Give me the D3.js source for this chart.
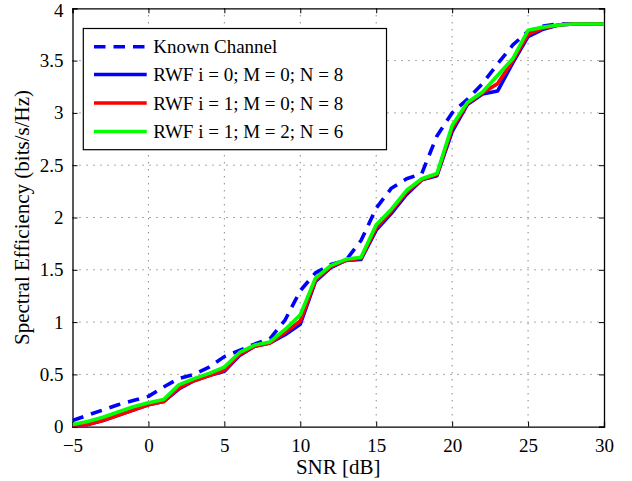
<!DOCTYPE html>
<html><head><meta charset="utf-8">
<script src="https://cdn.jsdelivr.net/npm/d3@7"></script>
<style>body{margin:0;background:#fff}svg{display:block}text{font-family:"Liberation Serif","Times New Roman",serif;fill:#000}</style>
</head><body><div id="chart"></div>
<script>
const snr = d3.range(-5, 31, 1);
const knownChannel = [0.06,0.11,0.16,0.21,0.25,0.29,0.38,0.46,0.50,0.57,0.67,0.73,0.79,0.84,1.02,1.30,1.47,1.55,1.59,1.78,2.09,2.28,2.37,2.42,2.78,3.00,3.13,3.28,3.47,3.65,3.78,3.83,3.85,3.85,3.85,3.85];
const rwf_i0_M0_N8 = [0.00,0.02,0.06,0.11,0.16,0.21,0.24,0.36,0.44,0.49,0.53,0.68,0.77,0.80,0.88,0.98,1.39,1.52,1.59,1.60,1.88,2.04,2.22,2.36,2.40,2.82,3.08,3.18,3.21,3.48,3.73,3.80,3.84,3.85,3.85,3.85];
const rwf_i1_M0_N8 = [0.00,0.02,0.06,0.11,0.16,0.21,0.24,0.37,0.44,0.49,0.54,0.69,0.77,0.80,0.90,1.01,1.40,1.53,1.59,1.61,1.90,2.06,2.24,2.36,2.41,2.85,3.09,3.19,3.28,3.50,3.75,3.81,3.84,3.85,3.85,3.85];
const rwf_i1_M2_N6 = [0.02,0.05,0.09,0.14,0.19,0.23,0.26,0.40,0.46,0.51,0.57,0.71,0.78,0.81,0.93,1.07,1.42,1.54,1.60,1.62,1.93,2.08,2.26,2.37,2.42,2.88,3.10,3.20,3.36,3.52,3.79,3.82,3.84,3.85,3.85,3.85];
const seriesNames = ["Known Channel","RWF i = 0; M = 0; N = 8","RWF i = 1; M = 0; N = 8","RWF i = 1; M = 2; N = 6"];
const xTicks = [-5,0,5,10,15,20,25,30];
const yTicks = [0,0.5,1,1.5,2,2.5,3,3.5,4];

const W = 632, H = 481;
const m = {left:72.5, right:604, top:8.3, bottom:426.7};
const svg = d3.select("#chart").append("svg").attr("width",W).attr("height",H);
const x = d3.scaleLinear().domain([-5,30]).range([m.left,m.right]);
const y = d3.scaleLinear().domain([0,4]).range([m.bottom,m.top]);

// grid
const g = svg.append("g");
g.selectAll(".gx").data(xTicks.slice(1,-1)).join("line")
  .attr("x1",d=>x(d)).attr("x2",d=>x(d)).attr("y1",m.top).attr("y2",m.bottom)
  .attr("stroke","#555").attr("stroke-width",1).attr("stroke-dasharray","1,6");
g.selectAll(".gy").data(yTicks.slice(1,-1)).join("line")
  .attr("y1",d=>y(d)).attr("y2",d=>y(d)).attr("x1",m.left).attr("x2",m.right)
  .attr("stroke","#555").attr("stroke-width",1).attr("stroke-dasharray","1,6");

// axes
const fs = 19;
const ax = svg.append("g").attr("transform",`translate(0,${m.bottom})`)
  .call(d3.axisBottom(x).tickValues(xTicks).tickSize(-5).tickPadding(12).tickFormat(d=>d<0?"\u2212"+(-d):d));
const ax2 = svg.append("g").attr("transform",`translate(0,${m.top})`)
  .call(d3.axisTop(x).tickValues(xTicks).tickSize(-5).tickFormat(""));
const ay = svg.append("g").attr("transform",`translate(${m.left},0)`)
  .call(d3.axisLeft(y).tickValues(yTicks).tickSize(-5).tickPadding(9).tickFormat(d=>d));
const ay2 = svg.append("g").attr("transform",`translate(${m.right},0)`)
  .call(d3.axisRight(y).tickValues(yTicks).tickSize(-5).tickFormat(""));
[ax,ax2,ay,ay2].forEach(a=>{
  a.selectAll("path").attr("stroke","#000").attr("stroke-width",1.3);
  a.selectAll("line").attr("stroke","#000");
  a.selectAll("text").style("font-family",'"Liberation Serif",serif').attr("font-size",fs).attr("fill","#000");
});
ax.selectAll("text").attr("dy","0.71em");
ay.selectAll("text").filter(d=>d===4).attr("dy","0.45em");

// lines
const line = d3.line().x((d,i)=>x(snr[i])).y(d=>y(d));
const series = [
  {v:knownChannel, c:"#0000ff", dash:"11.5,8"},
  {v:rwf_i0_M0_N8, c:"#0000ff", dash:null},
  {v:rwf_i1_M0_N8, c:"#ff0000", dash:null},
  {v:rwf_i1_M2_N6, c:"#00ff00", dash:null}
];
const clip = svg.append("clipPath").attr("id","clp").append("rect")
  .attr("x",m.left).attr("y",m.top-3).attr("width",m.right-m.left).attr("height",m.bottom-m.top+3);
svg.append("g").attr("clip-path","url(#clp)").selectAll("path.s").data(series).join("path")
  .attr("d",d=>line(d.v)).attr("fill","none").attr("stroke",d=>d.c).attr("stroke-width",3.6)
  .attr("stroke-dasharray",d=>d.dash).attr("stroke-linejoin","round");

// legend
const lg = svg.append("g");
lg.append("rect").attr("x",83.3).attr("y",28.5).attr("width",303.2).attr("height",121.2)
  .attr("fill","#fff").attr("stroke","#000").attr("stroke-width",1.2);
const rowY = [46.7,74.5,103,131.5];
series.forEach((s,i)=>{
  lg.append("line").attr("x1",94).attr("x2",146.7).attr("y1",rowY[i]).attr("y2",rowY[i])
    .attr("stroke",s.c).attr("stroke-width",3.6).attr("stroke-dasharray",s.dash);
  lg.append("text").attr("x",153.3).attr("y",rowY[i]).attr("dy","0.35em").attr("font-size",fs).text(seriesNames[i]);
});

// axis titles
svg.append("text").attr("x",(m.left+m.right)/2).attr("y",474).attr("text-anchor","middle").attr("font-size",21).text("SNR [dB]");
svg.append("text").attr("transform",`translate(29,${(m.top+m.bottom)/2}) rotate(-90)`).attr("text-anchor","middle").attr("font-size",21).text("Spectral Efficiency (bits/s/Hz)");
</script></body></html>
